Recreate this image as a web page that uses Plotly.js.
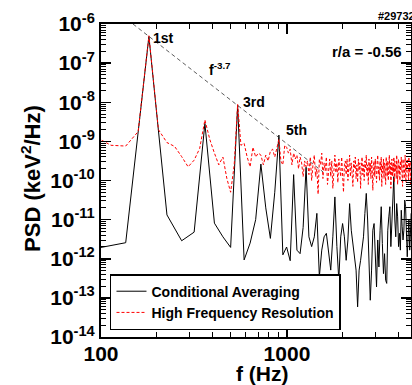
<!DOCTYPE html>
<html>
<head>
<meta charset="utf-8">
<script src="https://cdn.plot.ly/plotly-3.0.1.min.js"></script>
<style>html,body{margin:0;padding:0;background:#fff;overflow:hidden}#chart{width:412px;height:385px}</style>
</head>
<body>
<div id="chart"></div>
<script>
// Conditional averaging spectrum (frequency in Hz, log10 of PSD)
const condFreq = [90.5,135.8,181,226.3,271.5,316.8,362,407.3,452.5,497.8,543,588.3,633.5,678.8,724,769.3,814.5,859.8,905,950.3,
995.5,1040.8,1086,1131.3,1176.5,1221.8,1267,1312.3,1357.5,1402.8,1448,1493.3,1538.5,1583.8,1629,1674.3,1719.5,1764.8,1810,1855.3,
1900.5,1945.8,1991,2036.3,2081.5,2126.8,2172,2217.3,2262.5,2307.8,2353,2398.3,2443.5,2488.8,2534,2579.3,2624.5,2669.8,2715,2760.3,
2805.5,2850.8,2896,2941.3,2986.5,3031.8,3077,3122.3,3167.5,3212.8,3258,3303.3,3348.5,3393.8,3439,3484.3,3529.5,3574.8,3620,3665.3,
3710.5,3755.8,3801,3846.3,3891.5,3936.8,3982,4027.3,4072.5,4117.8,4163,4208.3,4253.5,4298.8,4344,4389.3,4434.5,4479.8,4525,4570.3,
4615.5,4660.8,4706,4751.3,4796.5,4841.8,4887];
const condLogPSD = [-11.75,-11.59,-6.32,-10.88,-11.54,-11.32,-8.54,-11.09,-11.44,-11.71,-8.08,-12.03,-11.6,-11.0,-9.58,-10.7,-11.48,-10.3,-8.84,-11.9,
-11.7,-12.05,-9.85,-11.78,-11.87,-11.2,-9.66,-11.44,-11.69,-11.44,-10.84,-12.46,-11.78,-11.44,-11.35,-11.87,-12.29,-11.44,-10.42,-11.69,
-12.55,-11.44,-11.10,-11.44,-12.04,-11.52,-10.59,-11.27,-11.61,-11.95,-12.29,-13.23,-12.29,-12.04,-11.78,-11.44,-10.84,-10.33,-11.01,-12.21,
-13.06,-12.29,-11.27,-11.10,-12.12,-12.72,-11.52,-12.21,-11.27,-10.67,-11.61,-12.38,-11.87,-12.55,-12.63,-11.27,-10.93,-10.67,-11.69,-11.01,
-10.16,-9.90,-11.01,-11.44,-10.59,-10.93,-11.69,-11.35,-11.78,-10.76,-11.18,-11.52,-11.27,-10.50,-10.67,-11.69,-11.95,-11.44,-11.01,-11.78,
-11.18,-10.84,-11.52,-11.87,-10.67,-11.27,-11.10];

// High frequency resolution spectrum (frequency in Hz, log10 of PSD)
const hfrFreq = [90.5,113.1,135.8,158.4,181,203.6,226.3,248.9,271.5,294.1,316.8,339.4,362,384.6,407.3,429.9,452.5,475.1,497.8,520.4,
543,565.6,588.3,610.9,633.5,656.1,678.8,701.4,724,746.6,769.3,791.9,814.5,837.1,859.8,882.4,905,927.6,950.3,972.9,
995.5,1018.1,1040.8,1063.4,1086,1108.6,1131.3,1153.9,1176.5,1199.1,1221.8,1244.4,1267,1289.6,1312.3,1334.9,1357.5,1380.1,1402.8,1425.4,
1448,1470.6,1493.3,1515.9,1538.5,1561.1,1583.8,1606.4,1629,1651.6,1674.3,1696.9,1719.5,1742.1,1764.8,1787.4,1810,1832.6,1855.3,1877.9,
1900.5,1923.1,1945.8,1968.4,1991,2013.6,2036.3,2058.9,2081.5,2104.1,2126.8,2149.4,2172,2194.6,2217.3,2239.9,2262.5,2285.1,2307.8,2330.4,
2353,2375.6,2398.3,2420.9,2443.5,2466.1,2488.8,2511.4,2534,2556.6,2579.3,2601.9,2624.5,2647.1,2669.8,2692.4,2715,2737.6,2760.3,2782.9,
2805.5,2828.1,2850.8,2873.4,2896,2918.6,2941.3,2963.9,2986.5,3009.1,3031.8,3054.4,3077,3099.6,3122.3,3144.9,3167.5,3190.1,3212.8,3235.4,
3258,3280.6,3303.3,3325.9,3348.5,3371.1,3393.8,3416.4,3439,3461.6,3484.3,3506.9,3529.5,3552.1,3574.8,3597.4,3620,3642.6,3665.3,3687.9,
3710.5,3733.1,3755.8,3778.4,3801,3823.6,3846.3,3868.9,3891.5,3914.1,3936.8,3959.4,3982,4004.6,4027.3,4049.9,4072.5,4095.1,4117.8,4140.4,
4163,4185.6,4208.3,4230.9,4253.5,4276.1,4298.8,4321.4,4344,4366.6,4389.3,4411.9,4434.5,4457.1,4479.8,4502.4,4525,4547.6,4570.3,4592.9,
4615.5,4638.1,4660.8,4683.4,4706,4728.6,4751.3];
const hfrLogPSD = [-8.85,-9.1,-9.12,-8.75,-6.3,-8.7,-9.03,-9.13,-9.39,-9.65,-9.48,-9.18,-8.45,-8.95,-9.3,-9.6,-9.4,-9.95,-10.3,-9.6,
-8.05,-9.1,-9.05,-9.4,-9.65,-9.15,-9.4,-9.3,-9.35,-9.6,-9.35,-9.5,-9.25,-9.2,-9.4,-9.15,-8.95,-9.5,-9.6,-9.1,
-9.15,-9.3,-9.2,-9.6,-9.3,-9.45,-9.35,-9.7,-9.4,-9.55,-9.9,-9.5,-9.65,
-9.5,-9.85,-9.4,-10.0,-9.6,-9.35,-9.9,-9.7,-10.35,-9.45,
-9.6,-9.3,-9.95,-9.55,-9.75,-9.4,-10.1,-9.6,-9.45,-9.9,
-9.5,-10.2,-9.65,-9.35,-9.8,-9.55,-10.05,-9.45,-9.7,-9.9,
-9.4,-9.75,-10.3,-9.6,-9.5,-9.85,-9.45,-10.0,-9.65,-9.35,
-9.9,-9.55,-9.8,-10.15,-9.5,-9.7,-9.4,-9.95,-9.6,-10.05,
-9.45,-9.75,-9.55,-10.2,-9.65,-9.4,-9.85,-9.6,-10.0,-9.5,
-9.7,-9.35,-9.9,-9.6,-10.1,-9.45,-9.8,-9.55,-9.95,-9.4,
-9.75,-10.25,-9.6,-9.5,-9.9,-9.45,-9.7,-10.05,-9.55,-9.35,
-9.85,-9.65,-10.0,-9.5,-9.75,-9.4,-10.15,-9.6,-9.8,-9.45,
-9.95,-9.55,-9.7,-10.1,-9.4,-9.65,-9.9,-9.5,-10.0,-9.6,
-9.35,-9.85,-9.55,-10.2,-9.7,-9.45,-9.9,-9.6,-9.8,-9.4,
-10.05,-9.5,-9.75,-9.6,-9.95,-9.35,-9.7,-10.1,-9.55,-9.45,
-9.85,-9.6,-10.0,-9.5,-9.75,-9.4,-9.9,-9.65,-10.15,-9.45,
-9.7,-9.55,-9.95,-9.6,-9.35,-9.85,-10.05,-9.5,-9.7,-9.45,
-9.9,-9.6,-10.0,-9.4,-9.8,-9.55,-9.75,-10.1,-9.5,-9.65,
-9.85,-9.45,-9.7,-9.95];

// f^-3.7 guide line end points
const fitFreq = [148.6, 1563];
const fitPSD = [1.0e-6, 1.66e-10];

// tick labels
const yTickVals = [1e-14,1e-13,1e-12,1e-11,1e-10,1e-9,1e-8,1e-7,1e-6];
const yTickText = ['10<sup>-14</sup>','10<sup>-13</sup>','10<sup>-12</sup>','10<sup>-11</sup>','10<sup>-10</sup>','10<sup>-9</sup>','10<sup>-8</sup>','10<sup>-7</sup>','10<sup>-6</sup>'];
const xTickVals = [100, 1000];
const xTickText = ['100', '1000'];

const toLin = a => a.map(v => Math.pow(10, v));
const FONT = 'Liberation Sans, Arial, Helvetica, sans-serif';

const traces = [
  {x: condFreq, y: toLin(condLogPSD), type: 'scatter', mode: 'lines', name: 'Conditional Averaging',
   line: {color: '#000000', width: 1}},
  {x: hfrFreq, y: toLin(hfrLogPSD), type: 'scatter', mode: 'lines', name: 'High Frequency Resolution',
   line: {color: '#ff0000', width: 1, dash: '3px,2px'}},
  {x: fitFreq, y: fitPSD, type: 'scatter', mode: 'lines', showlegend: false,
   line: {color: '#333333', width: 0.8, dash: '4px,3px'}}
];

const axisCommon = {
  type: 'log', showline: true, linecolor: '#000', linewidth: 2, mirror: 'ticks',
  ticks: 'inside', ticklen: 10, tickwidth: 1.5, tickcolor: '#000',
  showgrid: false, zeroline: false, tickmode: 'array',
  tickfont: {family: FONT, size: 21, color: '#000', weight: 'bold'},
  minor: {ticks: 'inside', ticklen: 5, tickwidth: 1, tickcolor: '#000', dtick: 'D1', showgrid: false}
};

const layout = {
  width: 412, height: 385,
  margin: {l: 101, r: 1, t: 24, b: 48},
  paper_bgcolor: '#fff', plot_bgcolor: '#fff',
  font: {family: FONT, color: '#000'},
  xaxis: Object.assign({}, axisCommon, {range: [2, 3.667], tickvals: xTickVals, ticktext: xTickText, ticklabelstandoff: -3}),
  yaxis: Object.assign({}, axisCommon, {range: [-14, -6], tickvals: yTickVals, ticktext: yTickText}),
  showlegend: true,
  legend: {x: 0.029, y: 0.022, xanchor: 'left', yanchor: 'bottom', bgcolor: '#fff',
    bordercolor: '#000', borderwidth: 1.5, font: {family: FONT, size: 14, weight: 'bold', color: '#000'},
    tracegroupgap: 0},
  annotations: [
    {xref: 'paper', yref: 'paper', x: 0.519, y: -0.118, text: 'f (Hz)', showarrow: false,
     font: {family: FONT, size: 21, weight: 'bold'}, xanchor: 'center', yanchor: 'middle'},
    {xref: 'paper', yref: 'paper', x: -0.226, y: 0.508, text: 'PSD (keV<sup>2</sup>/Hz)', showarrow: false, textangle: -90,
     font: {family: FONT, size: 22, weight: 'bold'}, xanchor: 'center', yanchor: 'middle'},
    {xref: 'paper', yref: 'paper', x: 0.2, y: 0.955, text: '1st', showarrow: false,
     font: {family: FONT, size: 14, weight: 'bold'}, xanchor: 'center', yanchor: 'middle'},
    {xref: 'paper', yref: 'paper', x: 0.4935, y: 0.751, text: '3rd', showarrow: false,
     font: {family: FONT, size: 14, weight: 'bold'}, xanchor: 'center', yanchor: 'middle'},
    {xref: 'paper', yref: 'paper', x: 0.632, y: 0.661, text: '5th', showarrow: false,
     font: {family: FONT, size: 14, weight: 'bold'}, xanchor: 'center', yanchor: 'middle'},
    {xref: 'paper', yref: 'paper', x: 0.342, y: 0.857, text: 'f<sup>-3.7</sup>', showarrow: false,
     font: {family: FONT, size: 14, weight: 'bold'}, xanchor: 'left', yanchor: 'middle'},
    {xref: 'paper', yref: 'paper', x: 0.858, y: 0.911, text: 'r/a = -0.56', showarrow: false,
     font: {family: FONT, size: 15, weight: 'bold'}, xanchor: 'center', yanchor: 'middle'},
    {xref: 'paper', yref: 'paper', x: 0.887, y: 1.026, text: '#29732', showarrow: false,
     font: {family: FONT, size: 11, weight: 'bold'}, xanchor: 'left', yanchor: 'middle'}
  ]
};

Plotly.newPlot('chart', traces, layout, {displayModeBar: false, staticPlot: true});
</script>
</body>
</html>
